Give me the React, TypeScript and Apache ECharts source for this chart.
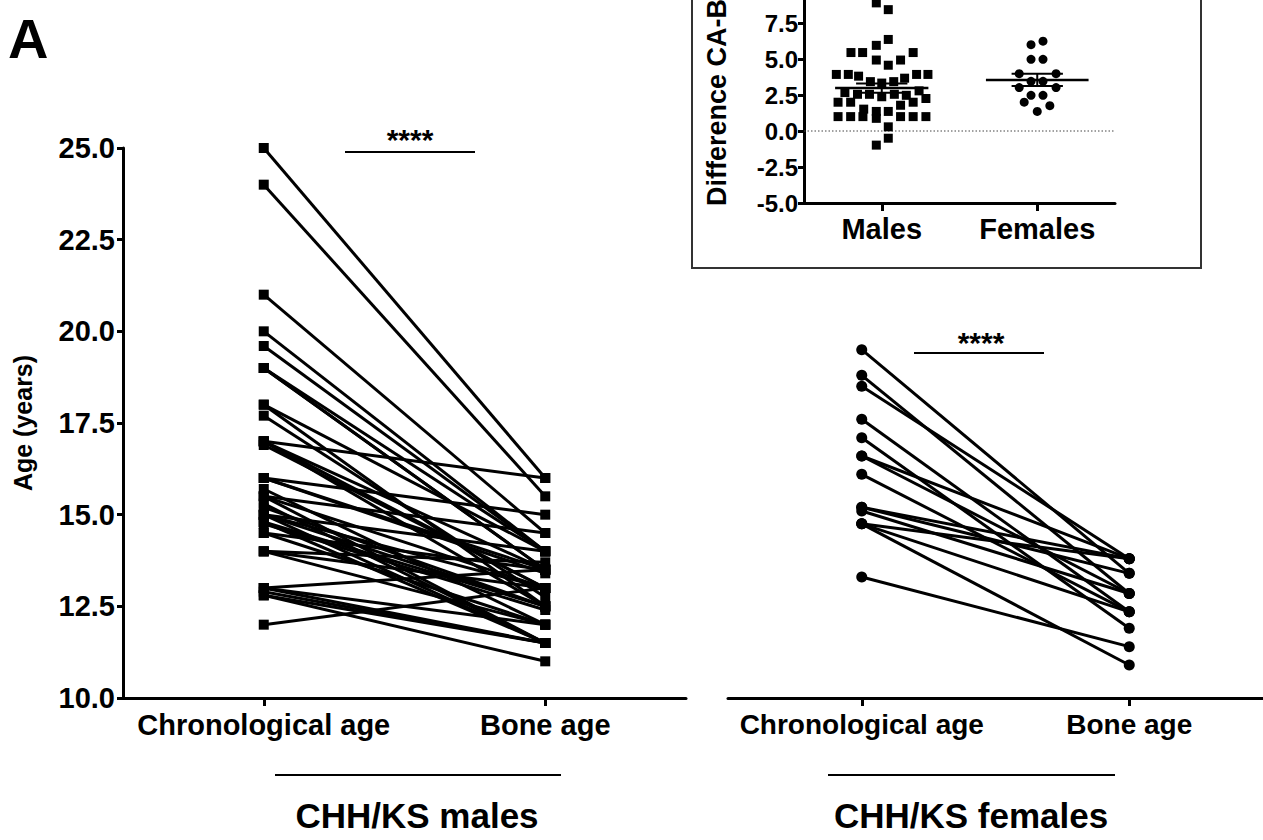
import React, { useEffect, useRef } from "react";
import * as echarts from "echarts";

// ---------- data ----------
const timepoints = ["Chronological age", "Bone age"];
const ageTicks = { min: 10, max: 25, interval: 2.5 };

const maleChronological = [
  25.0, 24.0, 21.0, 20.0, 19.6, 19.0, 19.0, 19.0, 18.0, 17.7, 17.0,
  17.0, 16.9, 18.0, 15.5, 15.3, 15.7, 17.0, 15.0, 14.8, 16.0, 15.2,
  15.0, 16.0, 14.5, 15.5, 14.75, 14.8, 14.0, 15.0, 12.8, 13.0, 12.9,
  12.8, 17.0, 16.0, 15.0, 14.5, 14.0, 13.0, 15.5, 14.0, 13.0, 12.0,
];
const maleBone = [
  16.0, 15.5, 14.5, 14.0, 14.0, 13.5, 13.5, 14.0, 12.5, 12.75, 12.5,
  13.0, 13.0, 14.0, 11.5, 11.5, 12.0, 13.5, 11.5, 11.5, 13.4, 12.5,
  12.5, 13.5, 12.0, 13.0, 12.4, 12.5, 12.0, 13.0, 11.0, 11.5, 11.5,
  11.5, 16.0, 15.0, 14.0, 13.5, 13.0, 12.0, 14.5, 13.7, 13.5, 13.0,
];

const femaleChronological = [
  19.5, 18.8, 18.5, 17.6, 17.1, 16.6, 16.6, 16.1, 15.2, 15.1, 14.75,
  14.75, 14.75, 13.3, 15.2,
];
const femaleBone = [
  13.4, 12.85, 13.8, 12.35, 11.9, 12.85, 13.8, 12.35, 13.8, 12.85, 10.9,
  13.8, 12.35, 11.4, 13.4,
];

// inset: difference CA-BA (years)
const insetGroups = ["Males", "Females"];
const insetTicks = { min: -5, interval: 2.5 };
const maleDiffJitter = [
  -0.035, 0.042, 0.042, -0.035, -0.198, -0.123, 0.202, -0.035, 0.121, 0.042,
  -0.292, -0.215, -0.149, -0.073, 0, 0.077, 0.147, 0.224, 0.297,
  -0.237, -0.156, -0.079, 0, 0.081, 0.158, 0.24,
  -0.281, -0.2, -0.116, -0.035, 0.042, 0.121, 0.202, 0.284,
  -0.281, -0.2, -0.121, -0.035, 0.121, 0.202, 0.284,
  0.042, 0.042, -0.035,
];
const maleDiff = [
  8.9, 8.43, 6.36, 5.95, 5.45, 5.45, 5.45, 4.93, 4.93, 4.57,
  3.93, 3.93, 3.81, 3.43, 3.33, 3.43, 3.67, 3.93, 3.93,
  2.67, 2.55, 2.55, 2.38, 2.55, 2.48, 2.79,
  2.0, 2.0, 1.52, 1.36, 1.36, 1.79, 2.0, 2.26,
  1.0, 1.0, 1.0, 0.88, 1.0, 1.0, 1.0,
  0.29, -0.5, -0.98,
];
const femaleDiffJitter = [
  -0.04, 0.037, -0.04, 0.037, -0.116, 0.121, -0.04, 0.037, -0.116, 0.121,
  -0.04, 0.037, -0.084, 0.081, 0,
];
const femaleDiff = [
  6.0, 6.24, 4.98, 4.98, 3.98, 3.98, 3.45, 3.45, 3.02, 3.02,
  2.48, 2.48, 2.0, 1.76, 1.36,
];
const groupMean = [2.98, 3.55];
const groupSem = [0.32, 0.42];

// ---------- styles ----------
const FONT = '"Liberation Sans", Arial, Helvetica, sans-serif';
const BLACK = "#000";

function buildOption() {
  const series: any[] = [];

  // males: connecting lines
  maleChronological.forEach((ca, i) => {
    series.push({
      type: "line",
      xAxisIndex: 0,
      yAxisIndex: 0,
      data: [ca, maleBone[i]],
      symbol: "none",
      lineStyle: { color: BLACK, width: 3 },
      silent: true,
      z: 2,
    });
  });
  series.push({
    type: "scatter",
    xAxisIndex: 0,
    yAxisIndex: 0,
    symbol: "rect",
    symbolSize: 10,
    itemStyle: { color: BLACK, opacity: 1 },
    data: [
      ...maleChronological.map((v) => [0, v]),
      ...maleBone.map((v) => [1, v]),
    ],
    z: 3,
  });

  // females: connecting lines
  femaleChronological.forEach((ca, i) => {
    series.push({
      type: "line",
      xAxisIndex: 1,
      yAxisIndex: 1,
      data: [ca, femaleBone[i]],
      symbol: "none",
      lineStyle: { color: BLACK, width: 3 },
      silent: true,
      z: 2,
    });
  });
  series.push({
    type: "scatter",
    xAxisIndex: 1,
    yAxisIndex: 1,
    symbol: "circle",
    symbolSize: 11,
    itemStyle: { color: BLACK, opacity: 1 },
    data: [
      ...femaleChronological.map((v) => [0, v]),
      ...femaleBone.map((v) => [1, v]),
    ],
    z: 3,
  });

  // inset: zero reference line
  series.push({
    type: "line",
    xAxisIndex: 3,
    yAxisIndex: 2,
    data: [
      [0.5, 0],
      [2.5, 0],
    ],
    symbol: "none",
    lineStyle: { color: "#444", width: 1, type: [1.5, 2] },
    silent: true,
    z: 1,
  });
  // inset scatter
  series.push({
    type: "scatter",
    xAxisIndex: 3,
    yAxisIndex: 2,
    symbol: "rect",
    symbolSize: 9,
    itemStyle: { color: BLACK, opacity: 1 },
    data: maleDiff.map((v, i) => [1 + maleDiffJitter[i], v]),
    z: 3,
  });
  series.push({
    type: "scatter",
    xAxisIndex: 3,
    yAxisIndex: 2,
    symbol: "circle",
    symbolSize: 9,
    itemStyle: { color: BLACK, opacity: 1 },
    data: femaleDiff.map((v, i) => [2 + femaleDiffJitter[i], v]),
    z: 3,
  });
  // mean +/- SEM
  const meanHalf = [0.3, 0.33];
  const semHalf = [0.165, 0.165];
  groupMean.forEach((m, g) => {
    const cx = g + 1;
    const s = groupSem[g];
    const segs = [
      [[cx - meanHalf[g], m], [cx + meanHalf[g], m]],
      [[cx - semHalf[g], m + s], [cx + semHalf[g], m + s]],
      [[cx - semHalf[g], m - s], [cx + semHalf[g], m - s]],
      [[cx, m - s], [cx, m + s]],
    ];
    segs.forEach((seg, k) => {
      series.push({
        type: "line",
        xAxisIndex: 3,
        yAxisIndex: 2,
        data: seg,
        symbol: "none",
        lineStyle: { color: BLACK, width: k === 0 ? 2.5 : 2 },
        silent: true,
        z: 4,
      });
    });
  });

  const catAxisCommon = (fontSize: number, margin: number) => ({
    type: "category",
    boundaryGap: true,
    axisLine: { show: true, onZero: false, lineStyle: { color: BLACK, width: 3 } },
    axisTick: {
      show: true,
      alignWithLabel: true,
      interval: 0,
      length: 8,
      lineStyle: { color: BLACK, width: 3 },
    },
    axisLabel: {
      color: BLACK,
      fontWeight: "bold",
      fontSize,
      fontFamily: FONT,
      margin,
      interval: 0,
      hideOverlap: false,
    },
    splitLine: { show: false },
  });

  const option: any = {
    animation: false,
    backgroundColor: "#fff",
    grid: [
      { left: 123, top: 148, width: 563, height: 550 },
      { left: 728, top: 148, width: 536, height: 550 },
      { left: 804, top: 0, width: 311, height: 203 },
    ],
    xAxis: [
      { ...catAxisCommon(29, 12), gridIndex: 0, data: timepoints },
      { ...catAxisCommon(28, 12), gridIndex: 1, data: timepoints },
      { ...catAxisCommon(29, 11), gridIndex: 2, data: insetGroups },
      { type: "value", gridIndex: 2, min: 0.5, max: 2.5, show: false },
    ],
    yAxis: [
      {
        type: "value",
        gridIndex: 0,
        min: ageTicks.min,
        max: ageTicks.max,
        interval: ageTicks.interval,
        axisLine: { show: true, onZero: false, lineStyle: { color: BLACK, width: 3 } },
        axisTick: { show: true, length: 6, lineStyle: { color: BLACK, width: 3 } },
        axisLabel: {
          color: BLACK,
          fontWeight: "bold",
          fontSize: 29,
          fontFamily: FONT,
          margin: 8,
          formatter: (v: number) => v.toFixed(1),
        },
        splitLine: { show: false },
        name: "Age (years)",
        nameLocation: "middle",
        nameGap: 88,
        nameRotate: 90,
        nameTextStyle: { color: BLACK, fontWeight: "bold", fontSize: 25, fontFamily: FONT },
      },
      {
        type: "value",
        gridIndex: 1,
        min: ageTicks.min,
        max: ageTicks.max,
        show: false,
      },
      {
        type: "value",
        gridIndex: 2,
        min: insetTicks.min,
        max: 9.1,
        interval: insetTicks.interval,
        axisLine: { show: true, onZero: false, lineStyle: { color: BLACK, width: 3 } },
        axisTick: { show: true, length: 6, lineStyle: { color: BLACK, width: 3 } },
        axisLabel: {
          color: BLACK,
          fontWeight: "bold",
          fontSize: 24,
          fontFamily: FONT,
          margin: 6,
          showMaxLabel: false,
          formatter: (v: number) => v.toFixed(1),
        },
        splitLine: { show: false },
      },
    ],
    graphic: [
      {
        type: "text",
        x: 8,
        y: 10,
        style: {
          text: "A",
          fill: BLACK,
          font: `bold 56px ${FONT}`,
          textAlign: "left",
          textVerticalAlign: "top",
        },
      },
      // inset frame
      {
        type: "rect",
        shape: { x: 692, y: -4, width: 509, height: 272 },
        style: { fill: "none", stroke: "#333", lineWidth: 2 },
      },
      {
        type: "text",
        x: 717,
        y: 206,
        rotation: Math.PI / 2,
        style: {
          text: "Difference CA-BA (years)",
          fill: BLACK,
          font: `bold 27px ${FONT}`,
          textAlign: "left",
          textVerticalAlign: "middle",
        },
      },
      // significance markers
      {
        type: "text",
        x: 410,
        y: 139,
        style: {
          text: "****",
          fill: BLACK,
          font: `bold 30px ${FONT}`,
          textAlign: "center",
          textVerticalAlign: "middle",
        },
      },
      {
        type: "line",
        shape: { x1: 345, y1: 152, x2: 475, y2: 152 },
        style: { stroke: BLACK, lineWidth: 2 },
      },
      {
        type: "text",
        x: 981,
        y: 342,
        style: {
          text: "****",
          fill: BLACK,
          font: `bold 30px ${FONT}`,
          textAlign: "center",
          textVerticalAlign: "middle",
        },
      },
      {
        type: "line",
        shape: { x1: 914, y1: 353, x2: 1044, y2: 353 },
        style: { stroke: BLACK, lineWidth: 2 },
      },
      // group underlines and titles
      {
        type: "line",
        shape: { x1: 275, y1: 775, x2: 561, y2: 775 },
        style: { stroke: BLACK, lineWidth: 2 },
      },
      {
        type: "line",
        shape: { x1: 828, y1: 775, x2: 1115, y2: 775 },
        style: { stroke: BLACK, lineWidth: 2 },
      },
      {
        type: "text",
        x: 417,
        y: 815,
        style: {
          text: "CHH/KS males",
          fill: BLACK,
          font: `bold 35px ${FONT}`,
          textAlign: "center",
          textVerticalAlign: "middle",
        },
      },
      {
        type: "text",
        x: 971,
        y: 815,
        style: {
          text: "CHH/KS females",
          fill: BLACK,
          font: `bold 35px ${FONT}`,
          textAlign: "center",
          textVerticalAlign: "middle",
        },
      },
    ],
    series,
  };
  return option;
}

export default function App() {
  const ref = useRef<HTMLDivElement>(null);
  useEffect(() => {
    if (!ref.current) return;
    const chart = echarts.init(ref.current, undefined, { renderer: "svg" });
    chart.setOption(buildOption());
    return () => chart.dispose();
  }, []);
  return (
    <div
      ref={ref}
      style={{
        position: "absolute",
        left: 0,
        top: 0,
        width: 1263,
        height: 840,
        background: "#fff",
      }}
    />
  );
}
